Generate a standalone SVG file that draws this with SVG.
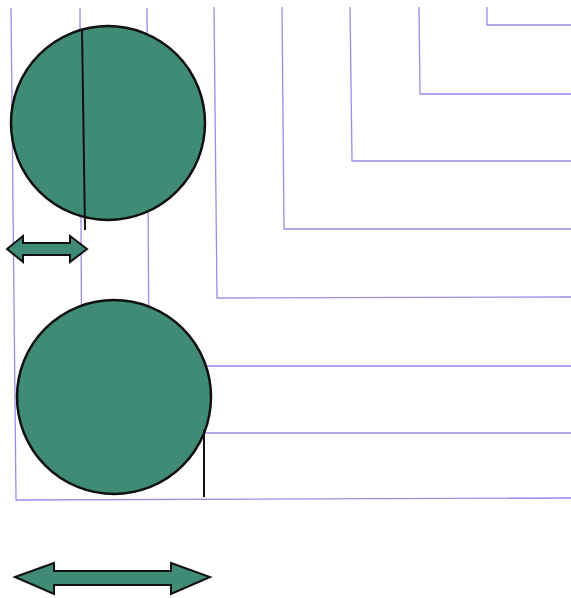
<svg xmlns="http://www.w3.org/2000/svg" width="571" height="598" viewBox="0 0 571 598">
<style>
.guide{fill:none;stroke:#a28ae6;stroke-width:1.3}
.disc{fill:#3f8b75;stroke:#111;stroke-width:2.5}
.arrow{fill:#3f8b75;stroke:#111;stroke-width:2;stroke-linejoin:miter}
.rod{stroke:#111;stroke-width:2;fill:none}
</style>
<rect width="571" height="598" fill="#fff"/>
<g id="guides">
<polyline class="guide" points="11,8 16,500 571,498"/>
<polyline class="guide" points="80,8 82,433 571,433"/>
<polyline class="guide" points="147,8 149,366 571,366"/>
<polyline class="guide" points="214,7 217,298 571,297"/>
<polyline class="guide" points="282,7 284,229 571,229"/>
<polyline class="guide" points="350,7 352,161 571,161"/>
<polyline class="guide" points="419,7 420,94 571,94"/>
<polyline class="guide" points="487,7 487,25 571,25"/>
</g>
<g id="circle-top">
<circle class="disc" cx="108" cy="123" r="97"/>
<line class="rod" x1="82" y1="29" x2="85" y2="230"/>
</g>
<g id="circle-bottom">
<circle class="disc" cx="114" cy="397" r="97"/>
<line class="rod" x1="204" y1="430" x2="204" y2="497"/>
</g>
<g id="arrow-small">
<polygon class="arrow" points="7,249 23,236 23,243 70,243 70,236 87,249 70,262 70,255 23,255 23,262"/>
</g>
<g id="arrow-large">
<polygon class="arrow" points="15,577 54,563 54,571 171,571 171,563 210,577 171,594 171,585 54,585 54,594"/>
</g>
</svg>
